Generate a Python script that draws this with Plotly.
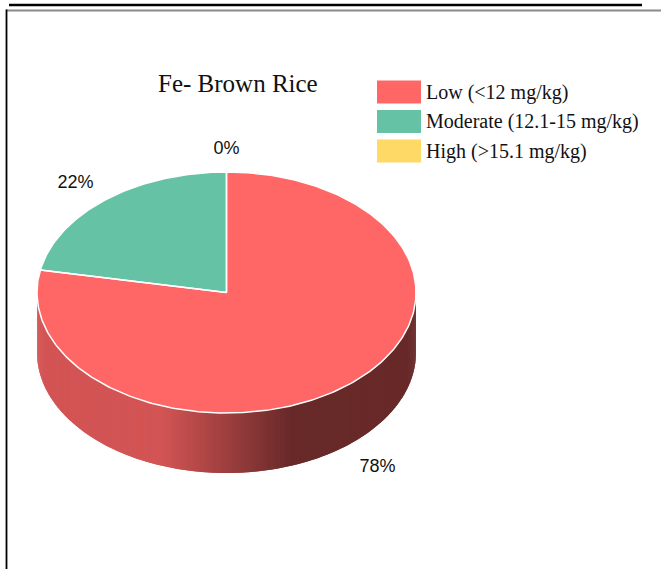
import numpy as np
import plotly.graph_objects as go

# ---- data ----
categories = ["Low (<12 mg/kg)", "Moderate (12.1-15 mg/kg)", "High (>15.1 mg/kg)"]
shares = [78, 22, 0]
slice_colors = ["#FF6666", "#66C2A5", "#FFD966"]
title_text = "Fe- Brown Rice"

# ---- canvas / pie geometry (pixel-mapped axes) ----
W, H = 661, 569
CX, CY = 226.5, 292.5      # centre of the top face
RX, RY = 189.5, 120.5      # tilted ellipse radii
DEPTH = 60                 # thickness of the pie wall


def hex_rgb(h):
    h = h.lstrip("#")
    return tuple(int(h[i:i + 2], 16) for i in (0, 2, 4))


def shade(h, f):
    r, g, b = hex_rgb(h)
    return f"rgb({int(r * f)},{int(g * f)},{int(b * f)})"


def rim(t, drop=0.0):
    # t measured clockwise from 12 o'clock, radians
    return CX + RX * np.sin(t), CY - RY * np.cos(t) + drop


def wall_factor(x):
    # lighting across the wall: lit on the left, dark on the right
    u = (x - (CX - RX)) / (2 * RX)
    return float(np.interp(u, [0.0, 0.33, 0.67, 1.0], [0.83, 0.83, 0.41, 0.41]))


total = float(sum(shares))
bounds = np.concatenate([[0.0], np.cumsum(shares)]) / total * 2 * np.pi

fig = go.Figure()

# ---- visible wall (front half of the ellipse), drawn as overlapping shaded strips ----
ts = np.linspace(3 * np.pi / 2, np.pi / 2, 241)   # left to right across the front
for i in range(len(ts) - 1):
    a = ts[i]
    b = ts[min(i + 2, len(ts) - 1)]                 # overlap the next strip to hide seams
    mid = 0.5 * (ts[i] + ts[i + 1])
    k = int(np.searchsorted(bounds, mid, side="right") - 1)
    k = min(max(k, 0), len(shares) - 1)
    seg = np.linspace(a, b, 5)
    xt, yt = rim(seg)
    xb, yb = rim(seg[::-1], DEPTH)
    xs = np.concatenate([xt, xb, xt[:1]])
    ys = np.concatenate([yt, yb, yt[:1]])
    col = shade(slice_colors[k], wall_factor(rim(mid)[0]))
    fig.add_trace(go.Scatter(x=xs, y=ys, mode="lines", fill="toself",
                             fillcolor=col, line=dict(width=0),
                             hoverinfo="skip", showlegend=False))

# ---- top face slices ----
for k, (name, v) in enumerate(zip(categories, shares)):
    if v <= 0:
        continue
    seg = np.linspace(bounds[k], bounds[k + 1], 200)
    xa, ya = rim(seg)
    xs = np.concatenate([[CX], xa, [CX]])
    ys = np.concatenate([[CY], ya, [CY]])
    fig.add_trace(go.Scatter(x=xs, y=ys, mode="lines", fill="toself",
                             fillcolor=slice_colors[k], line=dict(width=0),
                             name=name, hoverinfo="name", showlegend=False))

# white rim around the top face and white slice separators
tt = np.linspace(0, 2 * np.pi, 400)
xr, yr = rim(tt)
fig.add_trace(go.Scatter(x=xr, y=yr, mode="lines", line=dict(color="white", width=1.5),
                         hoverinfo="skip", showlegend=False))
for k, v in enumerate(shares):
    if v <= 0:
        continue
    for t in (bounds[k], bounds[k + 1]):
        ex, ey = rim(t)
        fig.add_trace(go.Scatter(x=[CX, ex], y=[CY, ey], mode="lines",
                                 line=dict(color="white", width=1.5),
                                 hoverinfo="skip", showlegend=False))

# ---- percentage labels ----
lx, ly, lt = [], [], []
for k, v in enumerate(shares):
    m = 0.5 * (bounds[k] + bounds[k + 1])
    x = CX + 1.25 * RX * np.sin(m)
    y = CY - 1.21 * RY * np.cos(m) + (DEPTH if np.cos(m) < 0 else 0) + 3
    lx.append(x)
    ly.append(y)
    lt.append(f"{round(v / total * 100)}%")
fig.add_trace(go.Scatter(x=lx, y=ly, mode="text", text=lt,
                         textfont=dict(family="Liberation Sans, Arial", size=18, color="#111"),
                         hoverinfo="skip", showlegend=False))

# ---- legend (swatches + labels) ----
LEG_X, LEG_Y, ROW = 377, 92, 29.5
shapes = []
annotations = []
for k, name in enumerate(categories):
    cy = LEG_Y + k * ROW
    shapes.append(dict(type="rect", xref="x", yref="y", x0=LEG_X, x1=LEG_X + 44,
                       y0=cy - 11.5, y1=cy + 11.5, fillcolor=slice_colors[k],
                       line=dict(width=0), layer="above"))
    annotations.append(dict(x=LEG_X + 47, y=cy, xref="x", yref="y", text=name,
                            showarrow=False, xanchor="left", yanchor="middle",
                            font=dict(family="Liberation Serif, Times New Roman",
                                      size=20, color="#111")))

# title
annotations.append(dict(x=238, y=83, xref="x", yref="y", text=title_text,
                        showarrow=False, xanchor="center", yanchor="middle",
                        font=dict(family="Liberation Serif, Times New Roman",
                                  size=25, color="#111")))

# page rules / frame
shapes += [
    dict(type="line", xref="x", yref="y", x0=9, x1=642, y0=5, y1=5,
         line=dict(color="black", width=2.5)),
    dict(type="line", xref="x", yref="y", x0=6, x1=661, y0=10.5, y1=10.5,
         line=dict(color="#8a8a8a", width=2)),
    dict(type="line", xref="x", yref="y", x0=6.5, x1=6.5, y0=9.5, y1=569,
         line=dict(color="black", width=1.8)),
]

fig.update_layout(
    width=W, height=H,
    margin=dict(l=0, r=0, t=0, b=0),
    paper_bgcolor="white", plot_bgcolor="white",
    xaxis=dict(range=[0, W], visible=False, fixedrange=True),
    yaxis=dict(range=[H, 0], visible=False, fixedrange=True),
    shapes=shapes, annotations=annotations,
    showlegend=False,
)

fig.write_html("out.html")
